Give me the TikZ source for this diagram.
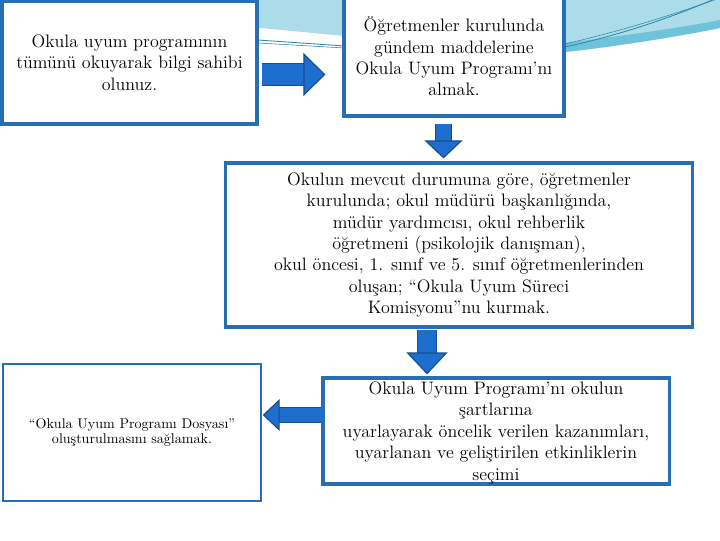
\documentclass[tikz,border=0pt]{standalone}
\usepackage{tikz}
\usetikzlibrary{arrows.meta,calc}
\definecolor{boxblue}{RGB}{40,110,180}
\definecolor{arrowblue}{RGB}{30,110,205}
\definecolor{arrowedge}{RGB}{25,75,145}
\definecolor{swooshlight}{RGB}{172,220,232}
\definecolor{swooshmid}{RGB}{110,195,218}
\definecolor{swooshline}{RGB}{45,135,175}

\begin{document}
\begin{tikzpicture}[
    x=0.025cm, y=-0.025cm,
    box/.style={rectangle, draw=boxblue, line width=2.2pt, fill=white, align=center, inner sep=0pt, font=\fontsize{12.8}{15.2}\selectfont},
    thinbox/.style={box, line width=1pt, font=\fontsize{10}{10.5}\selectfont},
    blockarrow/.style n args={3}{draw=arrowedge, line width=0.8pt, double=arrowblue, double distance=#1,
        -{Triangle[length=#3, width=#2, fill=arrowblue, line width=0.8pt]}}
]
    % page and the swoosh of the slide
    \fill[white] (0,0) rectangle (720,540);
    \useasboundingbox (0,0) rectangle (720,540);
    \fill[swooshlight] (250,-5) -- (720,-5) -- (720,28) .. controls (680,36) and (620,46) .. (565,52) -- (345,36) -- (250,27) -- cycle;
    \fill[swooshmid] (565,52) .. controls (620,46) and (680,36) .. (720,28) -- (720,20) .. controls (680,28) and (620,36) .. (565,43) -- cycle;
    \draw[swooshline, line width=0.6pt] (565,47) .. controls (620,35) and (670,18) .. (712,0);
    \draw[swooshline, line width=0.4pt] (565,44) .. controls (625,30) and (675,14) .. (720,-2);
    \draw[swooshline, line width=0.6pt] (258,40) -- (345,46);
    \draw[swooshline, line width=0.4pt] (258,43) -- (345,48);

    \node[box, minimum width=6.375cm, minimum height=3.0625cm] (program) at (129.5,62.75)
        {Okula uyum programının\\tümünü okuyarak bilgi sahibi\\olunuz.};
    \node[box, minimum width=5.5cm, minimum height=2.975cm] (kurul) at (454,56.5)
        {Öğretmenler kurulunda\\gündem maddelerine\\Okula Uyum Programı’nı\\almak.};
    \node[box, minimum width=11.65cm, minimum height=4.1cm] (komisyon) at (459,245)
        {Okulun mevcut durumuna göre, öğretmenler\\kurulunda; okul müdürü başkanlığında,\\müdür yardımcısı, okul rehberlik\\öğretmeni (psikolojik danışman),\\okul öncesi, 1. sınıf ve 5. sınıf öğretmenlerinden\\oluşan; “Okula Uyum Süreci\\Komisyonu”nu kurmak.};
    \node[box, minimum width=8.65cm, minimum height=2.65cm, text depth=0pt] (uyarlama) at (496,431)
        {Okula Uyum Programı’nı okulun\\şartlarına\\uyarlayarak öncelik verilen kazanımları,\\uyarlanan ve geliştirilen etkinliklerin\\seçimi};
    \node[thinbox, minimum width=6.45cm, minimum height=3.425cm] (dosya) at (132,432.5)
        {“Okula Uyum Programı Dosyası”\\oluşturulmasını sağlamak.};

    \draw[blockarrow={14.7pt}{1.075cm}{0.55cm}, shorten <=0.075cm, shorten >=0.425cm] (program.east |- 0,74.5) -- (kurul.west |- 0,74.5);
    \draw[blockarrow={10.4pt}{0.95cm}{0.45cm}, shorten <=0.15cm, shorten >=0.075cm] (kurul.south -| 443.5,0) -- (komisyon.north -| 443.5,0);
    \draw[blockarrow={12.6pt}{1.025cm}{0.55cm}, shorten <=0.025cm, shorten >=0.05cm] (komisyon.south -| 427,0) -- (uyarlama.north -| 427,0);
    \draw[blockarrow={9.7pt}{0.8cm}{0.425cm}, shorten >=0.025cm] (uyarlama.west |- 0,415) -- (dosya.east |- 0,415);
\end{tikzpicture}
\end{document}
